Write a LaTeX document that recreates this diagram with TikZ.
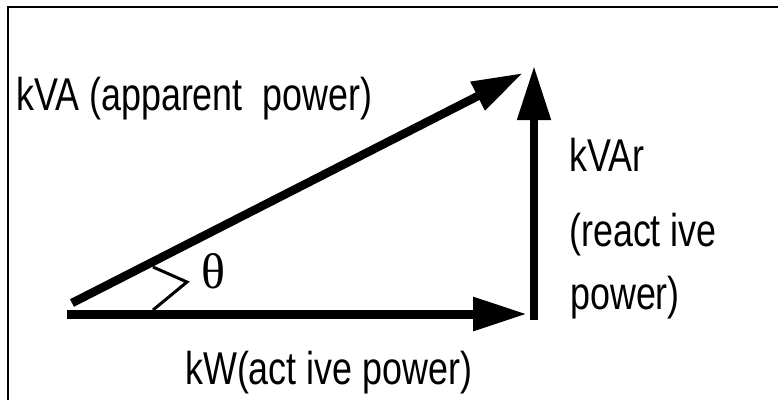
\documentclass[tikz,border=0pt]{standalone}
\usepackage{fontspec}
\setmainfont{Liberation Sans}
\newfontfamily\thetafont{Liberation Serif}
\usetikzlibrary{arrows.meta}
\tikzset{
  vec/.style={line width=#1, -{Triangle[length=54pt,width=32pt]}},
  lbl/.style={anchor=base west, inner sep=0pt, font=\fontsize{46}{50}\selectfont},
  frame/.style={line width=2pt},
  marker/.style={line width=3pt, line join=miter}
}
\newcommand{\nar}[1]{\scalebox{0.78}[1]{#1}}
\begin{document}
\begin{tikzpicture}[x=1pt,y=-1pt]
\useasboundingbox (0,0) rectangle (778,400);
% frame
\coordinate (F1) at (8,400);
\coordinate (F2) at (8,7);
\coordinate (F3) at (778,7);
\draw[frame] (F1) -- (F2) -- (F3);
% vectors
\coordinate (O) at (67,314);
\coordinate (P) at (527,314);
\coordinate (Vb) at (534,320);
\coordinate (Vt) at (534,66);
\coordinate (Ds) at (72,303);
\coordinate (Dt) at (523,73);
\draw[vec=9pt] (O) -- (P);
\draw[vec=8pt] (Vb) -- (Vt);
\draw[line width=8.5pt, -{Triangle[length=51pt,width=30pt]}] (Ds) -- (Dt);
% angle marker
\coordinate (M1) at (153,267);
\coordinate (M2) at (187,282);
\coordinate (M3) at (153,310);
\draw[marker] (M1) -- (M2) -- (M3);
% labels
\node[lbl] (kva) at (16,110) {\nar{kVA (apparent \ power)}};
\node[lbl] (kvar) at (569,171) {\nar{kVAr}};
\node[lbl] (react) at (569,246) {\nar{(react ive}};
\node[lbl] (pow) at (570,309) {\nar{power)}};
\node[lbl] (kw) at (185,384) {\nar{kW(act ive power)}};
\node[anchor=base west, inner sep=0pt, font=\thetafont\fontsize{50}{55}\selectfont] (theta) at (201,288) {θ};
\end{tikzpicture}
\end{document}
